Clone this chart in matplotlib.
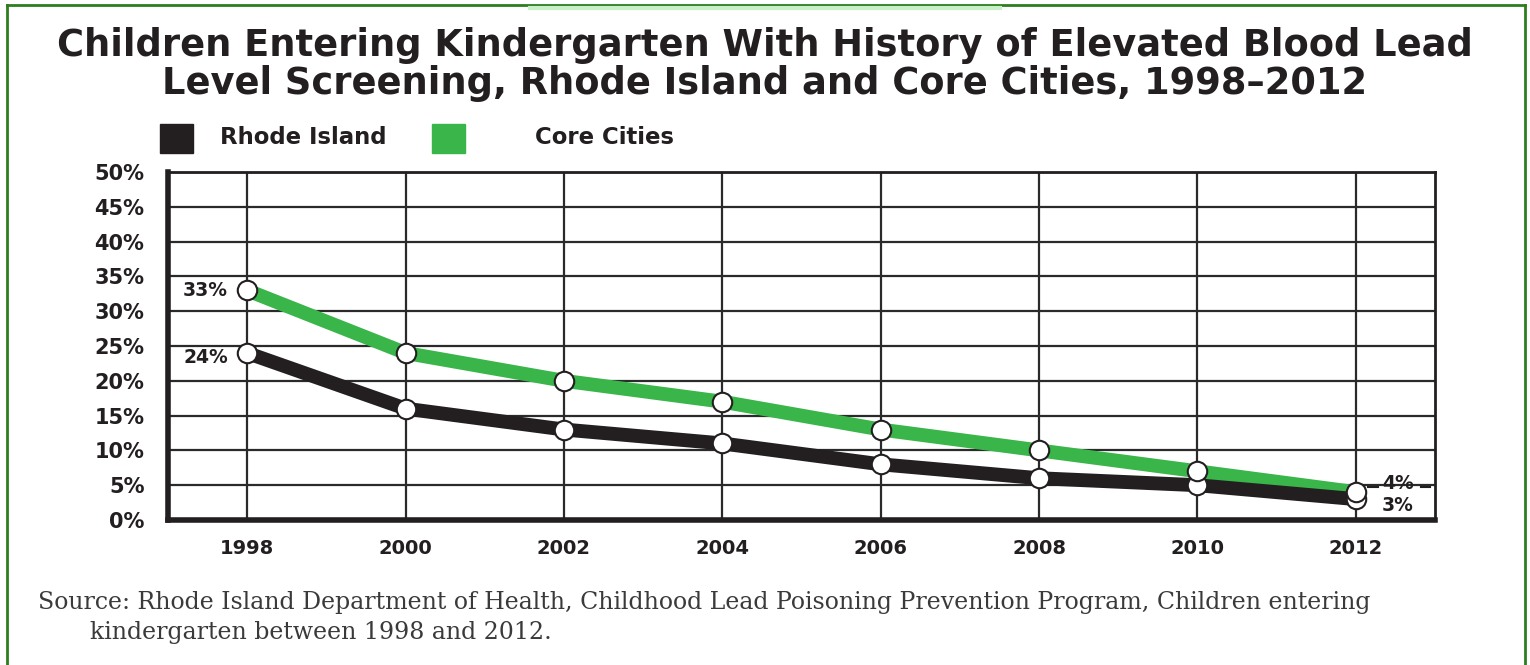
import matplotlib.pyplot as plt
from matplotlib.patches import Rectangle
from matplotlib.lines import Line2D

# datos
anios = [1998, 2000, 2002, 2004, 2006, 2008, 2010, 2012]
rhode_island = [24, 16, 13, 11, 8, 6, 5, 3]
core_cities = [33, 24, 20, 17, 13, 10, 7, 4]
y_ticks = [0, 5, 10, 15, 20, 25, 30, 35, 40, 45, 50]

negro = '#231f20'
verde = '#39b54a'
fuente = 'DejaVu Sans'

fig = plt.figure(figsize=(15.3, 6.65), dpi=100)
ax = fig.add_axes([168 / 1530, 1 - 520 / 665, (1435 - 168) / 1530, (520 - 172) / 665])

# lineas
ax.plot(anios, core_cities, color=verde, lw=10, solid_capstyle='butt', zorder=3)
ax.plot(anios, rhode_island, color=negro, lw=10, solid_capstyle='butt', zorder=3)
ax.plot(anios, rhode_island, 'o', ms=14, mfc='white', mec=negro, mew=1.5, zorder=4)
ax.plot(anios, core_cities, 'o', ms=14, mfc='white', mec=negro, mew=1.5, zorder=5)

ax.set_xlim(1997, 2013)
ax.set_ylim(0, 50)
ax.set_xticks(anios)
ax.set_xticklabels([str(a) for a in anios], fontsize=14, fontweight='bold',
                   family=fuente, color=negro)
ax.set_yticks(y_ticks)
ax.set_yticklabels([f'{v}%' for v in y_ticks], fontsize=15, fontweight='bold',
                   family=fuente, color=negro)
ax.tick_params(axis='y', length=0, pad=17)
ax.tick_params(axis='x', length=0, pad=14)
ax.grid(True, color='#2a2a2a', lw=1.6, zorder=1)
for s in ax.spines.values():
    s.set_color(negro)
    s.set_linewidth(2)
ax.spines['left'].set_linewidth(4)
ax.spines['bottom'].set_linewidth(4)

# etiquetas de valores
ax.text(1997.76, core_cities[0], f'{core_cities[0]}%', ha='right', va='center',
        fontsize=13.5, fontweight='bold', family=fuente, color=negro, zorder=6)
ax.text(1997.76, rhode_island[0] - 0.7, f'{rhode_island[0]}%', ha='right', va='center',
        fontsize=13.5, fontweight='bold', family=fuente, color=negro, zorder=6)
ax.plot([2012.15, 2012.28], [core_cities[-1] + 0.7] * 2, color=negro, lw=1.5, zorder=2)
ax.plot([2012.82, 2012.94], [core_cities[-1] + 0.7] * 2, color=negro, lw=1.5, zorder=2)
ax.text(2012.33, core_cities[-1] + 1.3, f'{core_cities[-1]}%', ha='left', va='center',
        fontsize=13.5, fontweight='bold', family=fuente, color=negro, zorder=6)
ax.text(2012.33, rhode_island[-1] - 0.85, f'{rhode_island[-1]}%', ha='left', va='center',
        fontsize=13.5, fontweight='bold', family=fuente, color=negro, zorder=6)

# titulo
fig.text(0.5, 1 - 45 / 665, 'Children Entering Kindergarten With History of Elevated Blood Lead',
         ha='center', va='center', fontsize=26.5, fontweight='bold', family=fuente, color=negro)
fig.text(0.5, 1 - 84 / 665, 'Level Screening, Rhode Island and Core Cities, 1998\u20132012',
         ha='center', va='center', fontsize=26.5, fontweight='bold', family=fuente, color=negro)

# leyenda
fig.patches.append(Rectangle((160 / 1530, 1 - 153 / 665), 33 / 1530, 29 / 665,
                             transform=fig.transFigure, color=negro))
fig.text(220 / 1530, 1 - 138 / 665, 'Rhode Island', ha='left', va='center',
         fontsize=16.4, fontweight='bold', family=fuente, color=negro)
fig.patches.append(Rectangle((432 / 1530, 1 - 153 / 665), 33 / 1530, 29 / 665,
                             transform=fig.transFigure, color=verde))
fig.text(535 / 1530, 1 - 138 / 665, 'Core Cities', ha='left', va='center',
         fontsize=16.4, fontweight='bold', family=fuente, color=negro)

# fuente
fig.text(38 / 1530, 1 - 603 / 665,
         'Source: Rhode Island Department of Health, Childhood Lead Poisoning Prevention Program, Children entering',
         ha='left', va='center', fontsize=17, family='DejaVu Serif', color='#3a3a3a')
fig.text(90 / 1530, 1 - 633 / 665, 'kindergarten between 1998 and 2012.',
         ha='left', va='center', fontsize=17, family='DejaVu Serif', color='#3a3a3a')

# borde verde
fig.add_artist(Line2D([7 / 1530, 7 / 1530], [0, 1 - 5 / 665], transform=fig.transFigure,
                      color='#2e7d1e', lw=2))
fig.add_artist(Line2D([1525 / 1530, 1525 / 1530], [0, 1 - 5 / 665], transform=fig.transFigure,
                      color='#2e7d1e', lw=2))
fig.add_artist(Line2D([7 / 1530, 1525 / 1530], [1 - 5 / 665, 1 - 5 / 665],
                      transform=fig.transFigure, color='#2e7d1e', lw=2))
fig.add_artist(Line2D([530 / 1530, 1000 / 1530], [1 - 8 / 665, 1 - 8 / 665],
                      transform=fig.transFigure, color='#c8f0c8', lw=3))

fig.savefig('out.png', dpi=100)
